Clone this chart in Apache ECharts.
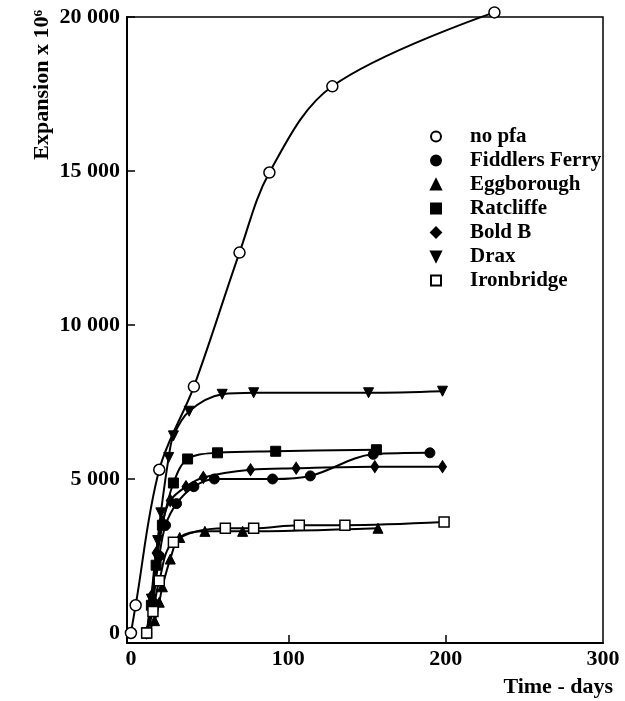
<!DOCTYPE html>
<html>
<head>
<meta charset="utf-8">
<script src="https://cdn.jsdelivr.net/npm/echarts@6/dist/echarts.min.js"></script>
<style>
html,body{margin:0;padding:0;background:#fff;}
#c{width:625px;height:701px;}
</style>
</head>
<body>
<div id="c"></div>
<script>
// Data: [time in days, expansion x 10^6]
const seriesNames = ['no pfa', 'Fiddlers Ferry', 'Eggborough', 'Ratcliffe', 'Bold B', 'Drax', 'Ironbridge'];
const noPfa = [[0, 0], [3, 900], [18, 5300], [40, 8000], [69, 12350], [88, 14950], [128, 17750], [231, 20150]];
const fiddlersFerry = [[10, 0], [14, 1000], [18, 2500], [22, 3500], [29, 4200], [40, 4750], [53, 5000], [90, 5000], [114, 5100], [154, 5800], [190, 5850]];
const eggborough = [[10, 0], [15, 400], [18, 1000], [20, 1500], [25, 2400], [31, 3100], [47, 3300], [71, 3300], [157, 3400]];
const ratcliffe = [[10, 0], [13, 900], [16, 2200], [20, 3500], [27, 4870], [36, 5650], [55, 5850], [92, 5900], [156, 5950]];
const boldB = [[10, 0], [13, 1200], [16, 2600], [20, 3600], [25, 4300], [35, 4750], [46, 5050], [76, 5300], [105, 5350], [155, 5400], [198, 5400]];
const drax = [[10, 0], [13, 1100], [17, 3000], [19, 3900], [24, 5700], [27, 6400], [37, 7200], [58, 7750], [78, 7800], [151, 7800], [198, 7850]];
const ironbridge = [[10, 0], [14, 700], [18, 1700], [27, 2950], [60, 3400], [78, 3400], [107, 3500], [136, 3500], [199, 3600]];
const xTickLabels = [0, 100, 200, 300];
const yTickLabels = [0, 5000, 10000, 15000, 20000];

const FONT = '"Liberation Serif", "Times New Roman", serif';
const fmt = v => String(v).replace(/\B(?=(\d{3})+(?!\d))/g, ' ');
const DOWN_TRI = 'path://M0,0 L10,0 L5,10 Z';

function mk(name, data, symbol, size, filled) {
  return {
    name: name, type: 'line', data: data, smooth: 0.35,
    symbol: symbol, symbolSize: size,
    showAllSymbol: true, clip: false,
    lineStyle: { color: '#000', width: 2 },
    itemStyle: filled ? { color: '#000', borderColor: '#000', borderWidth: 1 }
                      : { color: '#fff', borderColor: '#000', borderWidth: 1.5 },
    emphasis: { disabled: true }
  };
}

const chart = echarts.init(document.getElementById('c'), null, { renderer: 'canvas' });
chart.setOption({
  animation: false,
  backgroundColor: '#fff',
  grid: { left: 127, right: 22, top: 17, bottom: 58, show: true, borderColor: '#000', borderWidth: 1.5, backgroundColor: 'transparent' },
  xAxis: {
    type: 'value', min: -2.5, max: 300,
    axisLine: { show: true, onZero: false, lineStyle: { color: '#000', width: 2 } },
    axisTick: { show: true, inside: true, length: 8, customValues: [100, 200], lineStyle: { color: '#000', width: 1.5 } },
    axisLabel: { customValues: xTickLabels, color: '#000', fontFamily: FONT, fontWeight: 'bold', fontSize: 22, margin: 5 },
    splitLine: { show: false }
  },
  yAxis: {
    type: 'value', min: -325, max: 20000,
    axisLine: { show: true, onZero: false, lineStyle: { color: '#000', width: 2 } },
    axisTick: { show: true, inside: true, length: 8, customValues: [5000, 10000, 15000, 20000], lineStyle: { color: '#000', width: 1.5 } },
    axisLabel: { customValues: yTickLabels, formatter: v => fmt(v), color: '#000', fontFamily: FONT, fontWeight: 'bold', fontSize: 22, margin: 7 },
    splitLine: { show: false }
  },
  legend: {
    orient: 'vertical', left: 425, top: 121,
    itemWidth: 10, itemHeight: 10, itemGap: 3,
    textStyle: { color: '#000', fontFamily: FONT, fontWeight: 'bold', fontSize: 21, padding: [0, 0, 0, 24] },
    data: [
      { name: 'no pfa', icon: 'circle' },
      { name: 'Fiddlers Ferry', icon: 'circle' },
      { name: 'Eggborough', icon: 'triangle' },
      { name: 'Ratcliffe', icon: 'rect' },
      { name: 'Bold B', icon: 'diamond' },
      { name: 'Drax', icon: DOWN_TRI },
      { name: 'Ironbridge', icon: 'rect' }
    ]
  },
  graphic: [
    { type: 'text', left: 31, top: 10, rotation: Math.PI / 2, style: { text: 'Expansion x 10⁶', fill: '#000', font: 'bold 22px ' + FONT } },
    { type: 'text', right: 12, top: 676, style: { text: 'Time - days', fill: '#000', font: 'bold 22px ' + FONT } }
  ],
  series: [
    mk(seriesNames[0], noPfa, 'circle', 11, false),
    mk(seriesNames[1], fiddlersFerry, 'circle', 10, true),
    mk(seriesNames[2], eggborough, 'triangle', 10, true),
    mk(seriesNames[3], ratcliffe, 'rect', 10, true),
    mk(seriesNames[4], boldB, 'diamond', [8, 12], true),
    mk(seriesNames[5], drax, DOWN_TRI, 10, true),
    mk(seriesNames[6], ironbridge, 'rect', 10, false)
  ]
});
</script>
</body>
</html>
